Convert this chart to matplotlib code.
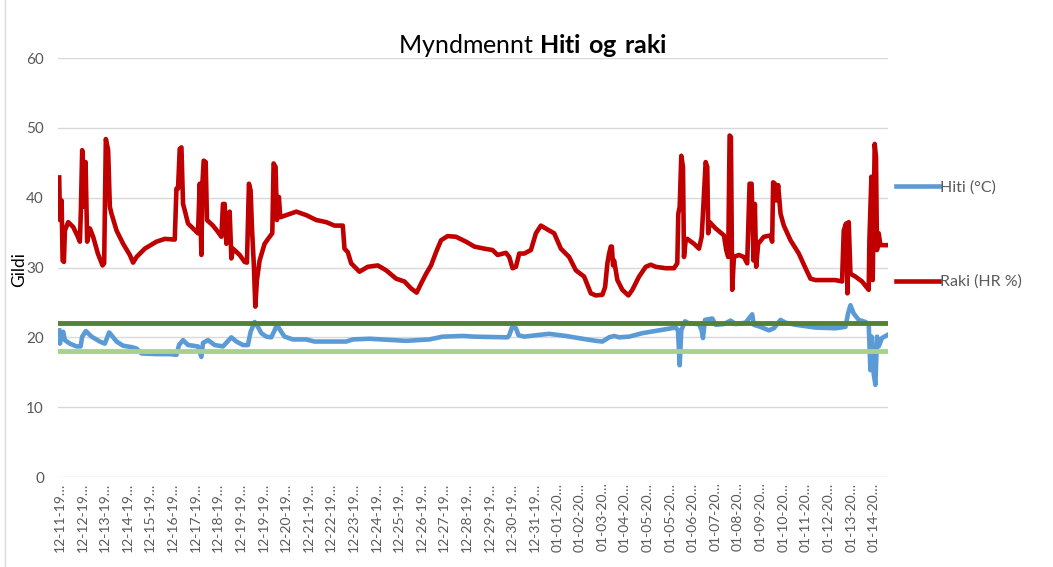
import numpy as np
import matplotlib.pyplot as plt
from matplotlib.patches import Rectangle

plt.rcParams['font.family'] = ['Lato', 'DejaVu Sans']
plt.rcParams['mathtext.fontset'] = 'custom'
plt.rcParams['mathtext.rm'] = 'Lato'
plt.rcParams['mathtext.bf'] = 'Lato:bold'

# sample number along the logging run
raki_x = [1.3, 2, 3.7, 4.7, 6, 7, 10.3, 15.3, 20, 22, 23, 24.3, 25.3, 26.3, 27.7, 29.3, 32, 35.3,
          40, 44.7, 46.3, 48, 50.3, 52, 53.7, 58.7, 65.3, 72, 75.3, 78.7, 87, 98.7, 107, 117,
          118.7, 120.3, 122, 123.7, 125.3, 127, 130.3, 140.3, 142, 143.7, 144.7, 146, 148, 149.3,
          155.3, 160.3, 163.7, 165.3, 167, 168.7, 170.3, 172, 173.7, 175.3, 182, 187, 189.3,
          191.3, 193, 194.3, 196.3, 197.7, 199.3, 202, 207, 212, 214.7, 216, 218, 219.3, 221.3,
          222.7, 228.7, 238.7, 248.7, 258.7, 268.7, 277, 285.3, 287, 290.3, 293.7, 302, 310.3,
          320.3, 328.7, 338.7, 347, 353.7, 359.3, 363.7, 368.7, 373.7, 378.7, 383.7, 390.3,
          398.7, 408.7, 417, 427, 435.3, 440.3, 448.7, 452, 455.3, 458.7, 462, 467, 473.7,
          478.7, 483.7, 492, 497, 503.7, 512, 518.7, 527, 533.7, 538.7, 545.3, 548, 550.3, 552,
          553.7, 554.7, 556, 557, 560.3, 565.3, 571.3, 575.3, 582, 588.7, 593.7, 598.7, 608.7,
          617, 620.3, 621.3, 622.7, 624.3, 626, 627, 628.7, 630.3, 637, 642, 644.7, 646, 648.7,
          650.3, 651.3, 652.7, 658.7, 667, 669.3, 671.3, 672.7, 674, 675.3, 677, 682, 687,
          690.3, 692.7, 694.7, 696.7, 698, 699.3, 701.3, 707, 713.7, 715.3, 716.3, 718, 719.3,
          721.3, 723.7, 727, 733.7, 742, 748.7, 753.7, 758.7, 768.7, 778.7, 785.3, 787, 789.3,
          790.7, 792, 793.7, 798.7, 805.3, 812, 812.7, 814.7, 816, 818, 819.3, 820.3, 822,
          823.7, 830.3]
raki = [42.9, 36.8, 39.6, 31, 30.8, 35.3, 36.5, 35.8, 34.4, 33.7, 38.2, 46.8, 44.9, 38.7, 45.1,
        33.7, 35.6, 34.4, 32, 30.3, 30.6, 48.4, 46.8, 38.7, 37.7, 35.3, 33.4, 31.8, 30.7, 31.5,
        32.7, 33.7, 34.1, 34, 41.3, 41.3, 47, 47.2, 39.1, 38.2, 36.3, 34.9, 42, 31.8, 42, 45.3,
        45.1, 36.8, 36, 35.1, 34.4, 39.1, 39.1, 33.4, 35.8, 38, 31.3, 32.7, 31.8, 30.8, 30.7,
        42, 41, 35.8, 30.1, 24.4, 28.2, 31, 33.4, 34.4, 34.9, 44.9, 44.4, 36.8, 40.1, 37.2,
        37.5, 38, 37.5, 36.8, 36.5, 36, 36, 32.7, 32.2, 30.6, 29.4, 30.1, 30.3, 29.6, 28.4, 28,
        27, 26.4, 27.7, 29.1, 30.3, 32.2, 33.9, 34.5, 34.4, 33.7, 33, 32.7, 32.5, 31.8, 32.1,
        31.5, 29.9, 30.1, 32, 32, 32.5, 34.9, 36, 35.3, 34.9, 32.7, 31.5, 29.6, 28.7, 26.3, 26,
        26.1, 27.2, 30.6, 32, 33, 33, 30.3, 31, 28.2, 26.8, 26, 26.8, 28.7, 30.1, 30.4, 30.1,
        29.9, 29.9, 30.6, 37.7, 38.7, 46, 44.4, 31.5, 33.9, 34.1, 33.4, 32.7, 34.4, 37.7, 45.1,
        44.4, 34.9, 36.5, 35.6, 34.6, 32.5, 31.5, 48.9, 48.7, 26.8, 31.5, 31.8, 31.5, 30.6, 42,
        42, 31, 39.1, 30.1, 33.4, 34.4, 34.6, 33.7, 42.2, 42, 39.6, 41.8, 37.7, 36, 33.9, 32,
        29.9, 28.4, 28.2, 28.2, 28.2, 28, 35.3, 36.3, 26.3, 36.5, 29.1, 28.7, 28, 26.8, 33.9,
        43, 28.2, 47.7, 45.8, 32.5, 34.9, 33.2, 33.2]

hiti_x = [1.3, 2, 3.7, 5.3, 7, 12, 18.7, 22.7, 24.3, 28, 33.7, 42, 47, 51.3, 53.7, 58.7, 65.3,
          73.7, 78.7, 83.7, 98.7, 112, 118.7, 121.3, 125.3, 130.3, 140.3, 143.7, 145.3, 150.3,
          157, 165.3, 173.7, 178.7, 185.3, 190.3, 193, 197, 200.3, 203.7, 208.7, 213.7, 217,
          219.3, 222.7, 227, 235.3, 248.7, 257, 288.7, 295.3, 312, 348.7, 372, 385.3, 405.3,
          417, 450.3, 452, 454.7, 458.7, 461.3, 467, 478.7, 492, 508.7, 525.3, 538.7, 545.3,
          552, 557, 562, 572, 585.3, 602, 618.7, 621, 622.7, 624.3, 628, 632, 642, 644.7, 646,
          648, 652, 655.3, 658.7, 667, 673.7, 678.7, 688.7, 695.3, 697, 703.7, 712, 717, 723.7,
          728.7, 738.7, 758.7, 778.7, 788.7, 791.3, 793.7, 797, 802, 808.7, 812, 813.7, 815,
          817, 818.7, 820.3, 822, 825.3, 830.3]
hiti = [21.0, 19.1, 20.6, 20.8, 19.6, 19.1, 18.7, 18.7, 20.1, 20.9, 20.1, 19.4, 19.1, 20.7,
        20.3, 19.4, 18.8, 18.6, 18.4, 17.7, 17.6, 17.6, 17.5, 18.9, 19.6, 18.9, 18.7, 17.2,
        19.2, 19.6, 18.9, 18.7, 20, 19.4, 18.9, 18.9, 20.8, 22.2, 21.5, 20.6, 20.1, 20, 21,
        21.8, 21, 20.1, 19.7, 19.7, 19.4, 19.4, 19.7, 19.8, 19.5, 19.7, 20.1, 20.2, 20.1, 20,
        20.3, 21.4, 21.3, 20.3, 20.1, 20.3, 20.5, 20.2, 19.8, 19.5, 19.4, 20, 20.2, 20, 20.1,
        20.6, 21, 21.4, 21, 16, 21, 22.3, 22, 21.9, 21, 19.9, 22.5, 22.6, 22.7, 21.8, 21.9,
        22.4, 21.9, 22.1, 23.3, 21.8, 21.5, 21, 21.3, 22.5, 22.1, 21.8, 21.4, 21.3, 21.5, 23.4,
        24.6, 23.4, 22.5, 22.2, 21.9, 15.3, 20.1, 14.8, 13.2, 20.1, 18.7, 19.9, 20.3]

hiti_max = 22
hiti_min = 18

dates = ['12-11-19', '12-12-19', '12-13-19', '12-14-19', '12-15-19', '12-16-19', '12-17-19',
         '12-18-19', '12-19-19', '12-19-19', '12-20-19', '12-21-19', '12-22-19', '12-23-19',
         '12-24-19', '12-25-19', '12-26-19', '12-27-19', '12-28-19', '12-29-19', '12-30-19',
         '12-31-19', '01-01-20', '01-02-20', '01-03-20', '01-04-20', '01-05-20', '01-05-20',
         '01-06-20', '01-07-20', '01-08-20', '01-09-20', '01-10-20', '01-11-20', '01-12-20',
         '01-13-20', '01-14-20']

gray = '#595959'
fig = plt.figure(figsize=(10.53, 5.67), dpi=100)
ax = fig.add_axes([0.055, 0.1587, 0.788, 0.739])

ax.plot(hiti_x, hiti, color='#5B9BD5', lw=3.3, label='Hiti (°C)', zorder=3)
ax.plot(raki_x, raki, color='#C00000', lw=3.3, label='Raki (HR %)', zorder=3)
ax.axhline(hiti_max, color='#548235', lw=3.5, zorder=4)
ax.axhline(hiti_min, color='#A9D18E', lw=3.5, zorder=4)

ax.set_ylim(0, 60)
ax.set_xlim(0, 831)
ax.set_yticks(range(0, 61, 10))
ax.grid(axis='y', color='#D9D9D9', lw=1)
ax.set_axisbelow(True)
for s in ax.spines.values():
    s.set_visible(False)
ax.tick_params(length=0)
ax.tick_params(axis='y', labelcolor=gray, labelsize=11, pad=10)

ticks = 2 + np.arange(len(dates)) * 22.64
ax.set_xticks(ticks)
ax.set_xticklabels([d + '…' for d in dates], rotation=90, color=gray, fontsize=10)
ax.tick_params(axis='x', pad=4)

ax.set_ylabel('Gildi', fontsize=12.5)
ax.yaxis.set_label_coords(-0.037, 0.494)

fig.text(0.506, 0.92, r'Myndmennt $\mathbf{Hiti\ og\ raki}$', ha='center', va='center',
         fontsize=18)

leg = ax.legend(loc='center left', bbox_to_anchor=(1.0, 0.578), frameon=False, fontsize=11.5,
                labelspacing=5.0, handlelength=2.7, handletextpad=0.1, borderpad=0)
for t in leg.get_texts():
    t.set_color(gray)

fig.patches.append(Rectangle((0.005, -0.01), 1.2, 1.2, transform=fig.transFigure,
                             fill=False, edgecolor='#D9D9D9', lw=1))

fig.savefig('out.png', dpi=100)
